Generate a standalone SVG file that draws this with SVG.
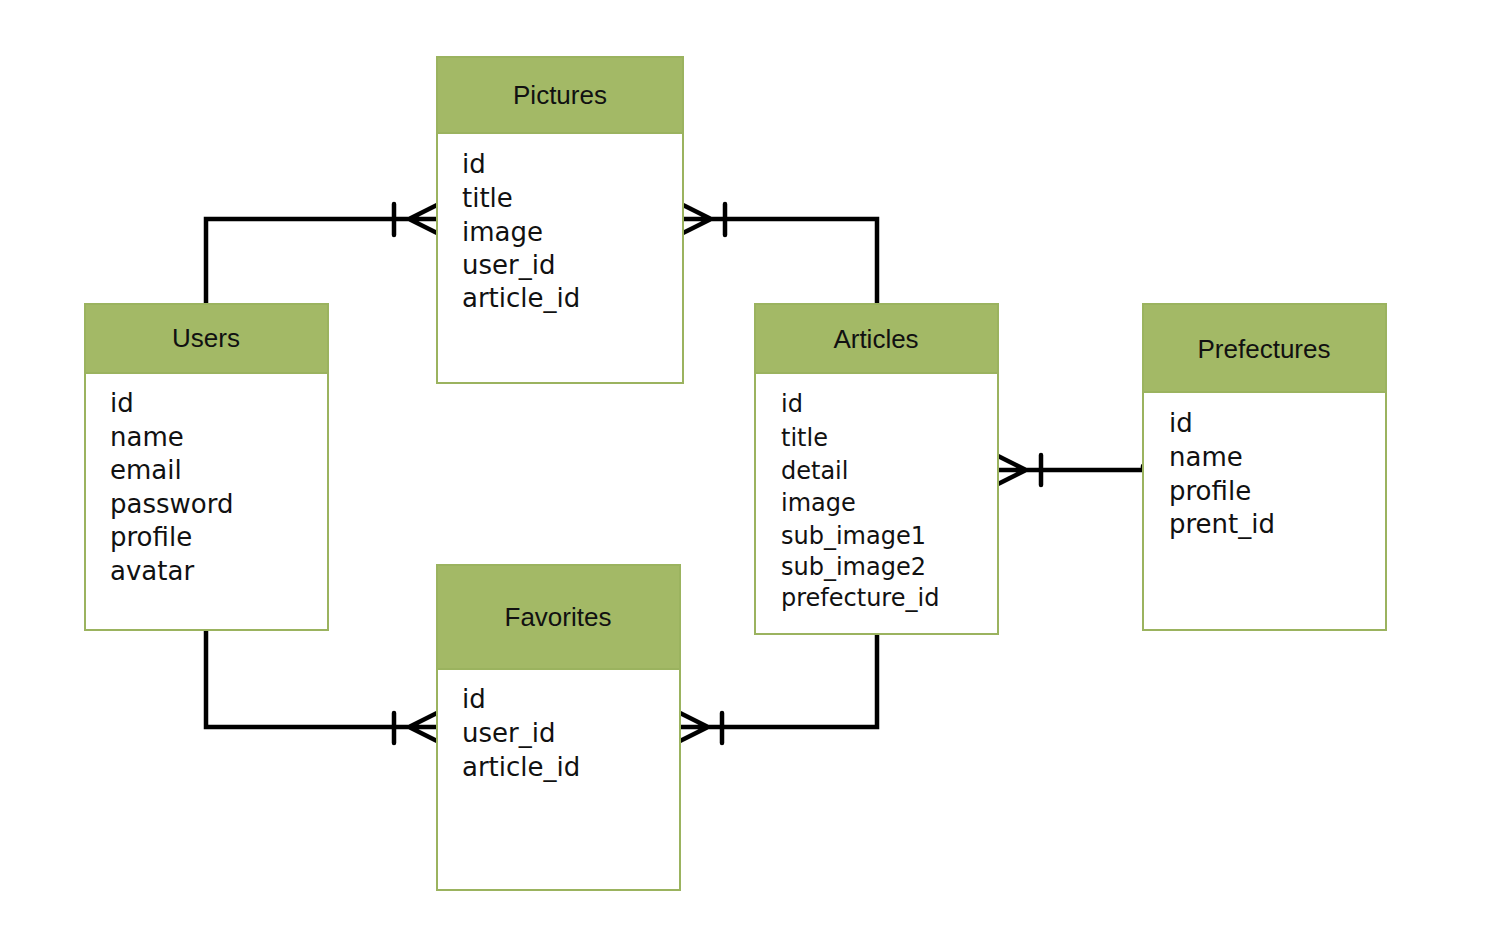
<svg xmlns="http://www.w3.org/2000/svg" width="1486" height="948" viewBox="0 0 1486 948">
<style>
.box{fill:#fff;stroke:#9bb35f;stroke-width:2}
.hd{fill:#a3b966;stroke:#9bb35f;stroke-width:2}
.ht{font-family:"Liberation Sans",Arial,sans-serif;font-size:26px;fill:#111;text-anchor:middle}
.bt{font-family:"DejaVu Sans",sans-serif;font-size:26px;fill:#111}
.bs{font-family:"DejaVu Sans",sans-serif;font-size:24px;fill:#111}
.ln{fill:none;stroke:#000;stroke-width:4.5;stroke-linecap:round;stroke-linejoin:miter}
</style>
<rect width="1486" height="948" fill="#fff"/>
<g id="connectors">
<path class="ln" d="M206 304 V219 H437 M394 204 V235 M437 205 L409 219 L437 233"/>
<path class="ln" d="M683 219 H877 V304 M725 204 V235 M683 205 L711 219 L683 233"/>
<path class="ln" d="M998 470 H1143 V466 M1041 455 V485 M998 456 L1026 470 L998 484"/>
<path class="ln" d="M206 630 V727 H437 M394 713 V743 M437 713 L409 727 L437 741"/>
<path class="ln" d="M680 727 H877 V634 M722 713 V743 M680 713 L708 727 L680 741"/>
</g>
<g id="pictures">
<rect class="box" x="437" y="57" width="246" height="326"/>
<rect class="hd" x="437" y="57" width="246" height="76"/>
<text class="ht" x="560" y="104">Pictures</text>
<text class="bt" x="462" y="173">id</text>
<text class="bt" x="462" y="207">title</text>
<text class="bt" x="462" y="241">image</text>
<text class="bt" x="462" y="274">user_id</text>
<text class="bt" x="462" y="307">article_id</text>
</g>
<g id="users">
<rect class="box" x="85" y="304" width="243" height="326"/>
<rect class="hd" x="85" y="304" width="243" height="69"/>
<text class="ht" x="206" y="347">Users</text>
<text class="bt" x="110" y="412">id</text>
<text class="bt" x="110" y="446">name</text>
<text class="bt" x="110" y="479">email</text>
<text class="bt" x="110" y="513">password</text>
<text class="bt" x="110" y="546">profile</text>
<text class="bt" x="110" y="580">avatar</text>
</g>
<g id="articles">
<rect class="box" x="755" y="304" width="243" height="330"/>
<rect class="hd" x="755" y="304" width="243" height="69"/>
<text class="ht" x="876" y="348">Articles</text>
<text class="bs" x="781" y="412">id</text>
<text class="bs" x="781" y="446">title</text>
<text class="bs" x="781" y="479">detail</text>
<text class="bs" x="781" y="511">image</text>
<text class="bs" x="781" y="544">sub_image1</text>
<text class="bs" x="781" y="575">sub_image2</text>
<text class="bs" x="781" y="606">prefecture_id</text>
</g>
<g id="prefectures">
<rect class="box" x="1143" y="304" width="243" height="326"/>
<rect class="hd" x="1143" y="304" width="243" height="88"/>
<text class="ht" x="1264" y="358">Prefectures</text>
<text class="bt" x="1169" y="432">id</text>
<text class="bt" x="1169" y="466">name</text>
<text class="bt" x="1169" y="500">profile</text>
<text class="bt" x="1169" y="533">prent_id</text>
</g>
<g id="favorites">
<rect class="box" x="437" y="565" width="243" height="325"/>
<rect class="hd" x="437" y="565" width="243" height="104"/>
<text class="ht" x="558" y="626">Favorites</text>
<text class="bt" x="462" y="708">id</text>
<text class="bt" x="462" y="742">user_id</text>
<text class="bt" x="462" y="776">article_id</text>
</g>
</svg>
